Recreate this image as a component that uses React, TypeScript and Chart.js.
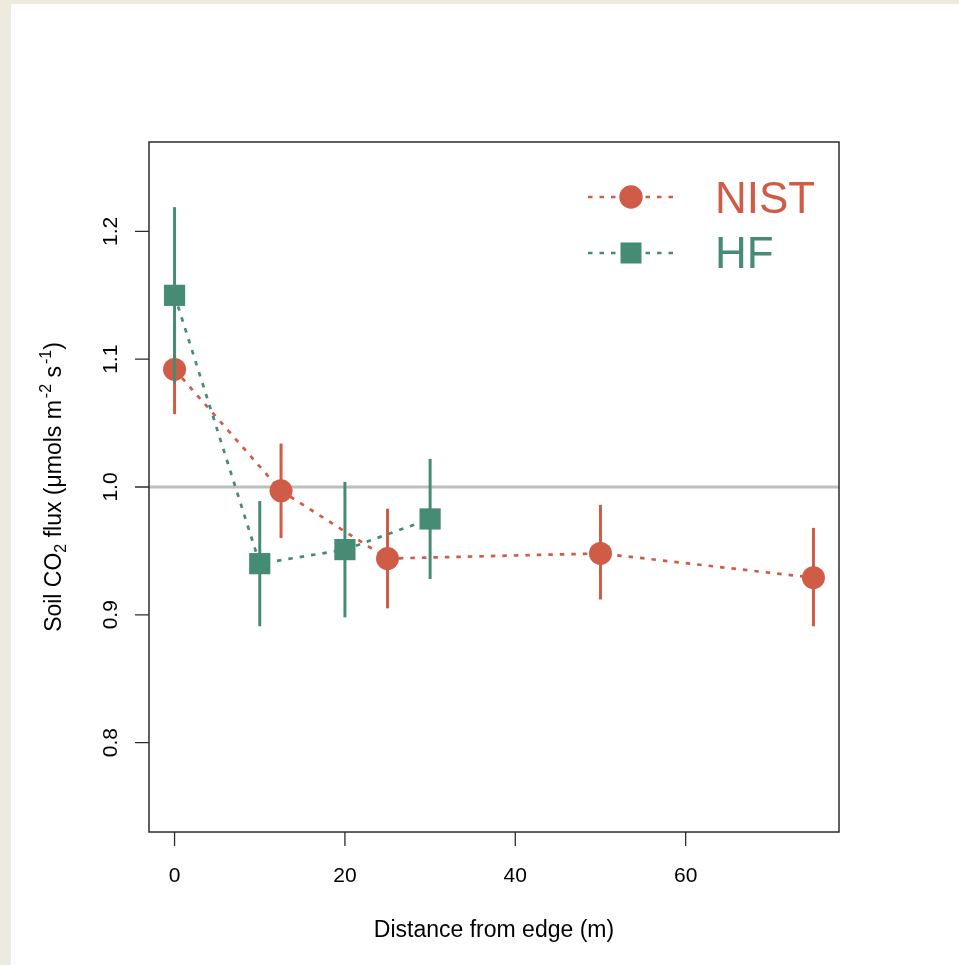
import React, { useEffect, useRef } from 'react';
import { Chart, registerables } from 'chart.js';

Chart.register(...registerables);

// ---- data ----
const nistDistance = [0, 12.5, 25, 50, 75];
const nistFlux = [1.092, 0.997, 0.944, 0.948, 0.929];
const nistLow = [1.057, 0.960, 0.905, 0.912, 0.891];
const nistHigh = [1.127, 1.034, 0.983, 0.986, 0.968];

const hfDistance = [0, 10, 20, 30];
const hfFlux = [1.150, 0.940, 0.951, 0.975];
const hfLow = [1.081, 0.891, 0.898, 0.928];
const hfHigh = [1.219, 0.989, 1.004, 1.022];

const seriesNames = ['NIST', 'HF'];
const referenceFlux = 1.0;

const xTickValues = [0, 20, 40, 60];
const xTickLabels = ['0', '20', '40', '60'];
const yTickValues = [0.8, 0.9, 1.0, 1.1, 1.2];
const yTickLabels = ['0.8', '0.9', '1.0', '1.1', '1.2'];

const xTitle = 'Distance from edge (m)';

// ---- styles ----
const RED = '#CF5C46';
const GREEN = '#468B73';
const AXIS_COLOR = '#2c2c2c';
const FONT = '"Liberation Sans", Arial, Helvetica, sans-serif';
const DASH = [4.5, 7];

const errorBars: Record<string, { low: number[]; high: number[]; x: number[]; color: string }> = {
  NIST: { low: nistLow, high: nistHigh, x: nistDistance, color: RED },
  HF: { low: hfLow, high: hfHigh, x: hfDistance, color: GREEN },
};

const rPlotPlugin = {
  id: 'rPlot',
  beforeDraw(chart: any) {
    const ctx = chart.ctx;
    ctx.save();
    ctx.fillStyle = '#EDEBE0';
    ctx.fillRect(0, 0, chart.width, chart.height);
    ctx.fillStyle = '#FFFFFF';
    ctx.fillRect(11, 4, chart.width - 11, chart.height - 4);
    ctx.restore();
  },
  beforeDatasetsDraw(chart: any) {
    const { ctx, chartArea, scales } = chart;
    const y = scales.y.getPixelForValue(referenceFlux);
    ctx.save();
    ctx.strokeStyle = '#BEBEBE';
    ctx.lineWidth = 3;
    ctx.beginPath();
    ctx.moveTo(chartArea.left, y);
    ctx.lineTo(chartArea.right, y);
    ctx.stroke();
    ctx.restore();
  },
  beforeDatasetDraw(chart: any, args: any) {
    const ds = chart.data.datasets[args.index];
    const eb = errorBars[ds.label];
    if (!eb) return;
    const { ctx, scales } = chart;
    ctx.save();
    ctx.strokeStyle = eb.color;
    ctx.lineWidth = 3;
    ctx.lineCap = 'butt';
    for (let i = 0; i < eb.x.length; i++) {
      const px = scales.x.getPixelForValue(eb.x[i]);
      ctx.beginPath();
      ctx.moveTo(px, scales.y.getPixelForValue(eb.low[i]));
      ctx.lineTo(px, scales.y.getPixelForValue(eb.high[i]));
      ctx.stroke();
    }
    ctx.restore();
  },
  afterDraw(chart: any) {
    const { ctx, chartArea, scales } = chart;
    const { left, right, top, bottom } = chartArea;
    ctx.save();
    // box
    ctx.strokeStyle = AXIS_COLOR;
    ctx.lineWidth = 1.5;
    ctx.strokeRect(left, top, right - left, bottom - top);
    // ticks
    ctx.lineWidth = 1.3;
    ctx.beginPath();
    xTickValues.forEach((v) => {
      const px = scales.x.getPixelForValue(v);
      ctx.moveTo(px, bottom);
      ctx.lineTo(px, bottom + 14);
    });
    yTickValues.forEach((v) => {
      const py = scales.y.getPixelForValue(v);
      ctx.moveTo(left, py);
      ctx.lineTo(left - 14, py);
    });
    ctx.stroke();

    // tick labels
    ctx.fillStyle = '#000';
    ctx.font = `21px ${FONT}`;
    ctx.textAlign = 'center';
    ctx.textBaseline = 'alphabetic';
    xTickValues.forEach((v, i) => {
      ctx.fillText(xTickLabels[i], scales.x.getPixelForValue(v), 882);
    });
    yTickValues.forEach((v, i) => {
      ctx.save();
      ctx.translate(117, scales.y.getPixelForValue(v));
      ctx.rotate(-Math.PI / 2);
      ctx.fillText(yTickLabels[i], 0, 0);
      ctx.restore();
    });

    // x title
    ctx.font = `23px ${FONT}`;
    ctx.fillText(xTitle, (left + right) / 2, 937);

    // y title with sub/superscripts
    const segs: { t: string; k: 'n' | 'sub' | 'sup' }[] = [
      { t: 'Soil CO', k: 'n' },
      { t: '2', k: 'sub' },
      { t: ' flux (', k: 'n' },
      { t: '\u03BC', k: 'n' },
      { t: 'mols m', k: 'n' },
      { t: '-2', k: 'sup' },
      { t: ' s', k: 'n' },
      { t: '-1', k: 'sup' },
      { t: ')', k: 'n' },
    ];
    const big = `23px ${FONT}`;
    const small = `16px ${FONT}`;
    let total = 0;
    const widths = segs.map((s) => {
      ctx.font = s.k === 'n' ? big : small;
      const w = ctx.measureText(s.t).width + (s.k === 'sup' ? 2 : 0);
      total += w;
      return w;
    });
    ctx.save();
    ctx.translate(61, (top + bottom) / 2);
    ctx.rotate(-Math.PI / 2);
    ctx.textAlign = 'left';
    let cx = -total / 2;
    segs.forEach((s, i) => {
      ctx.font = s.k === 'n' ? big : small;
      const dy = s.k === 'sub' ? 5 : s.k === 'sup' ? -10 : 0;
      ctx.fillText(s.t, cx + (s.k === 'sup' ? 2 : 0), dy);
      cx += widths[i];
    });
    ctx.restore();

    // legend
    const legendRows = [
      { name: seriesNames[0], color: RED, style: 'circle', y: 197, base: 213 },
      { name: seriesNames[1], color: GREEN, style: 'rect', y: 253, base: 268 },
    ];
    legendRows.forEach((r) => {
      ctx.save();
      ctx.strokeStyle = r.color;
      ctx.lineWidth = 2.7;
      ctx.setLineDash(DASH);
      ctx.beginPath();
      ctx.moveTo(588, r.y);
      ctx.lineTo(674, r.y);
      ctx.stroke();
      ctx.setLineDash([]);
      ctx.fillStyle = r.color;
      if (r.style === 'circle') {
        ctx.beginPath();
        ctx.arc(631, r.y, 11.7, 0, Math.PI * 2);
        ctx.fill();
      } else {
        ctx.fillRect(620.5, r.y - 10.5, 21, 21);
      }
      ctx.font = `44px ${FONT}`;
      ctx.textAlign = 'left';
      ctx.fillText(r.name, 715, r.base);
      ctx.restore();
    });

    ctx.restore();
  },
};

export default function App() {
  const canvasRef = useRef<HTMLCanvasElement>(null);

  useEffect(() => {
    const canvas = canvasRef.current;
    if (!canvas) return;
    const chart = new Chart(canvas, {
      type: 'scatter',
      data: {
        datasets: [
          {
            label: seriesNames[0],
            data: nistDistance.map((x, i) => ({ x, y: nistFlux[i] })),
            showLine: true,
            borderColor: RED,
            borderWidth: 2.7,
            borderDash: DASH,
            backgroundColor: RED,
            pointStyle: 'circle',
            pointRadius: 11.5,
            pointBorderWidth: 0,
            pointBackgroundColor: RED,
            order: 2,
          },
          {
            label: seriesNames[1],
            data: hfDistance.map((x, i) => ({ x, y: hfFlux[i] })),
            showLine: true,
            borderColor: GREEN,
            borderWidth: 2.7,
            borderDash: DASH,
            backgroundColor: GREEN,
            pointStyle: 'rect',
            pointRadius: 15,
            pointBorderWidth: 0,
            pointBackgroundColor: GREEN,
            order: 1,
          },
        ],
      },
      options: {
        animation: false,
        responsive: false,
        events: [],
        layout: { padding: { left: 149, right: 120, top: 142, bottom: 133 } },
        plugins: {
          legend: { display: false },
          tooltip: { enabled: false },
        },
        scales: {
          x: { type: 'linear', min: -3, max: 78, display: false },
          y: { type: 'linear', min: 0.73, max: 1.27, display: false },
        },
      },
      plugins: [rPlotPlugin],
    });
    return () => chart.destroy();
  }, []);

  return (
    <div style={{ position: 'fixed', left: 0, top: 0, width: 959, height: 965 }}>
      <canvas ref={canvasRef} width={959} height={965} style={{ display: 'block', width: 959, height: 965 }} />
    </div>
  );
}
